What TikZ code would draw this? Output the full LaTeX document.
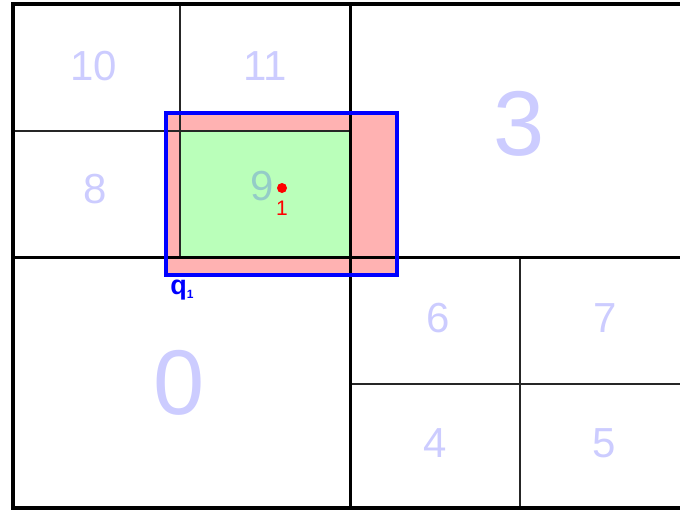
\documentclass[tikz,border=0pt]{standalone}
\usepackage{fontspec}
\setmainfont{Liberation Sans}
\definecolor{CellClr}{rgb}{0.8,0.84,1}
\definecolor{HitClr}{rgb}{0.73,1,0.73}
\definecolor{BoxClr}{rgb}{1,0.7,0.7}

\begin{document}
\begin{tikzpicture}[x=1pt,y=-1pt,
  thickline/.style={line width=3pt,black},
  thinline/.style={line width=1.5pt,black!85},
  cellnum/.style={text=blue,text opacity=0.2,font=\fontsize{42}{42}\selectfont},
  bignum/.style={text=blue,text opacity=0.2,font=\fontsize{92}{92}\selectfont}]
\useasboundingbox (0,0) rectangle (680,512);
\clip (0,0) rectangle (680,512);

% query box and the hit cell
\fill[BoxClr] (166,113) rectangle (397,275);
\fill[HitClr] (180,131) rectangle (350,257);

% grid
\draw[thinline] (13,131) -- (350,131);
\draw[thinline] (180,4) -- (180,257);
\draw[thinline] (520,257) -- (520,508);
\draw[thinline] (350,384) -- (690,384);
\draw[thickline] (350,4) -- (350,508);
\draw[thickline] (13,257) -- (690,257);
\draw[line width=4pt] (690,4) -- (13,4) -- (13,508) -- (690,508);

\draw[blue,line width=4pt] (166,113) rectangle (397,275);

% cell numbers
\node[cellnum] (n10) at (94,66) {10};
\node[cellnum] (n11) at (265,66) {11};
\node[cellnum] (n8) at (95,189) {8};
\node[cellnum] (n9) at (262,186) {9};
\node[bignum] (n3) at (519,124) {3};
\node[bignum] (n0) at (179,383) {0};
\node[cellnum] (n6) at (438,318) {6};
\node[cellnum] (n7) at (605,318) {7};
\node[cellnum] (n4) at (435,443) {4};
\node[cellnum] (n5) at (604,443) {5};

% point and label
\fill[red] (282,188) circle (5pt) coordinate (p1);
\node[red,font=\fontsize{21}{21}\selectfont] (p1lbl) at (282,208) {1};
\node[blue,font=\fontsize{27}{27}\selectfont\bfseries] (q1) at (182,290) {q\raisebox{-0.3ex}{\fontsize{12}{12}\selectfont 1}};

\end{tikzpicture}
\end{document}
